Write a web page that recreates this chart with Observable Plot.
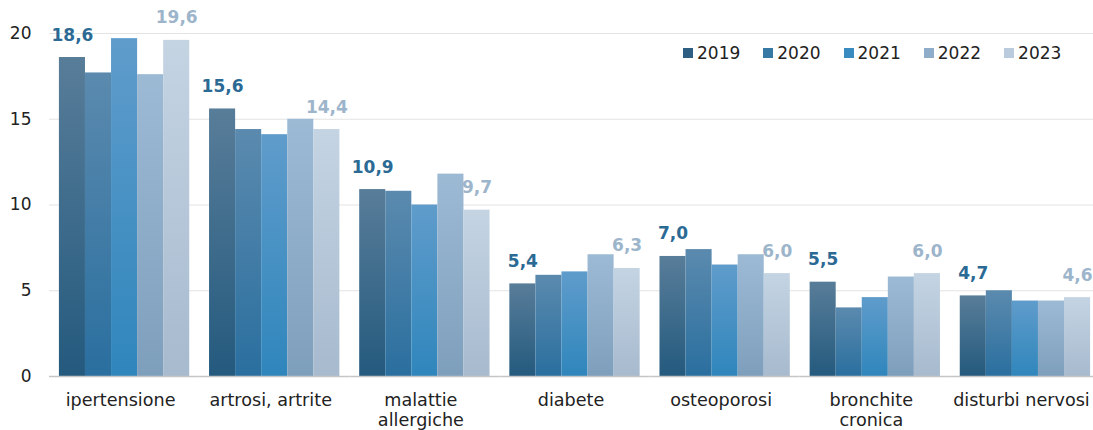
<!DOCTYPE html>
<html><head><meta charset="utf-8">
<script src="https://cdn.jsdelivr.net/npm/d3@7"></script>
<script src="https://cdn.jsdelivr.net/npm/@observablehq/plot@0.6"></script>
<style>
body{margin:0;background:#fff;font-family:"DejaVu Sans",sans-serif;overflow:hidden}
#wrap{position:relative;width:1093px;height:430px;overflow:hidden}
#chart svg{max-width:none !important}
#legend{position:absolute;top:43px;left:683px;display:flex;gap:23px;font-size:17px;color:#222;line-height:20px}
#legend .it{display:flex;align-items:center}
#legend .sw{width:10px;height:10px;margin-right:4px}
</style></head><body>
<div id="wrap"><div id="chart"></div><div id="legend"></div></div>
<script>
const categories = ["ipertensione","artrosi, artrite","malattie\nallergiche","diabete","osteoporosi","bronchite\ncronica","disturbi nervosi"];
const years = ["2019","2020","2021","2022","2023"];
const v2019 = [18.6,15.6,10.9,5.4,7.0,5.5,4.7];
const v2020 = [17.7,14.4,10.8,5.9,7.4,4.0,5.0];
const v2021 = [19.7,14.1,10.0,6.1,6.5,4.6,4.4];
const v2022 = [17.6,15.0,11.8,7.1,7.1,5.8,4.4];
const v2023 = [19.6,14.4,9.7,6.3,6.0,6.0,4.6];
const yTicks = [0,5,10,15,20];
const gradTop = ["#587d99","#5b8aae","#5f9ccb","#9dbad5","#c4d4e3"];
const gradBottom = ["#245a7e","#2a6f9f","#2f86bc","#7e9fbc","#a7bace"];
const legendColors = ["#2e5f82","#3779a5","#3a8cc0","#8fadc9","#b9cbdc"];

const series = [v2019,v2020,v2021,v2022,v2023];
const rows = categories.flatMap((c,i)=>years.map((y,j)=>({cat:c,year:y,value:series[j][i]})));
const fmt = v => v.toFixed(1).replace(".", ",");

const chart = Plot.plot({
  width:1100, height:430, marginLeft:49, marginRight:0, marginTop:33, marginBottom:54,
  style:{fontFamily:"DejaVu Sans, sans-serif", fontSize:"17px", color:"#222", background:"transparent", maxWidth:"none"},
  facet:{data:rows, x:"cat"},
  fx:{domain:categories, padding:0, round:false, axis:null, label:null},
  x:{domain:years, paddingInner:0, paddingOuter:0.38, round:false, axis:null, label:null},
  y:{domain:[0,20], ticks:yTicks, tickSize:0, tickPadding:18, label:null},
  color:{type:"identity"},
  marks:[
    Plot.ruleY(yTicks.slice(1), {stroke:"#e3e3e3", strokeWidth:1.2}),
    Plot.barY(rows, {x:"year", y:"value", fill:d=>`url(#grad-${d.year})`}),
    Plot.ruleY([0], {stroke:"#c6c6c6", strokeWidth:1.5}),
    Plot.text(rows, {filter:d=>d.year==="2019", x:"year", y:"value", text:d=>fmt(d.value), lineAnchor:"bottom", dy:-17, fill:"#2b6a94", fontWeight:"bold", fontSize:17}),
    Plot.text(rows, {filter:d=>d.year==="2023", x:"year", y:"value", text:d=>fmt(d.value), lineAnchor:"bottom", dy:-17, fill:"#9db5cb", fontWeight:"bold", fontSize:17}),
    Plot.text(rows, {filter:d=>d.year==="2021", x:"year", text:"cat", frameAnchor:"bottom", lineAnchor:"top", dx:-4, dy:16, fill:"#222", fontSize:17.6, lineHeight:1.1})
  ]
});
document.getElementById("chart").appendChild(chart);
const svg = chart.tagName.toLowerCase()==="svg" ? chart : chart.querySelector("svg");
svg.style.maxWidth = "none";
const defs = d3.select(svg).insert("defs", ":first-child");
years.forEach((y,i)=>{
  const g = defs.append("linearGradient").attr("id",`grad-${y}`).attr("x1",0).attr("y1",0).attr("x2",0).attr("y2",1);
  g.append("stop").attr("offset","0%").attr("stop-color",gradTop[i]);
  g.append("stop").attr("offset","100%").attr("stop-color",gradBottom[i]);
});
const leg = d3.select("#legend");
years.forEach((y,i)=>{
  const it = leg.append("div").attr("class","it");
  it.append("div").attr("class","sw").style("background",legendColors[i]);
  it.append("span").text(y);
});
</script>
</body></html>
